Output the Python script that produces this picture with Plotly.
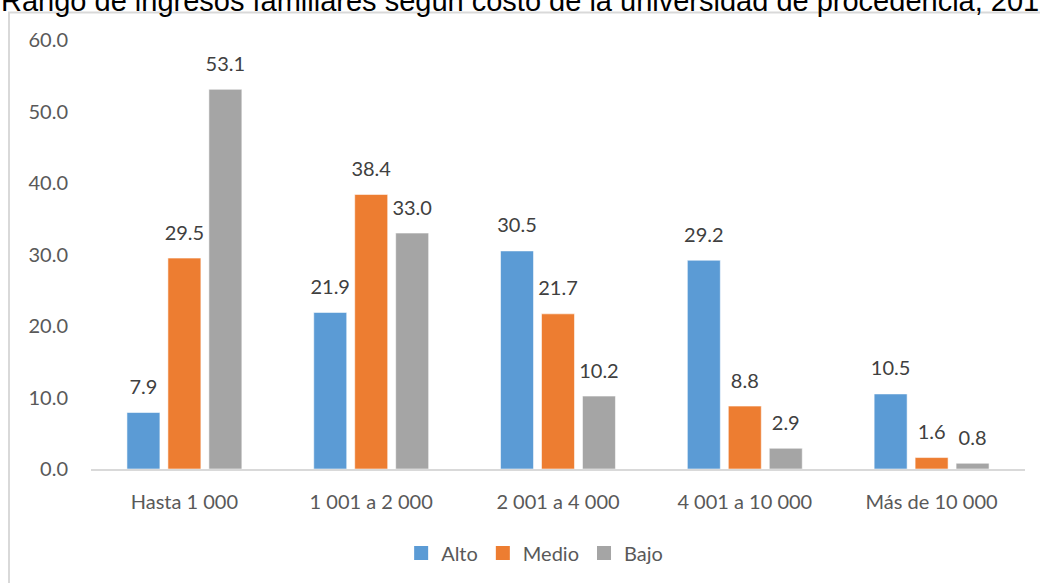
import plotly.graph_objects as go

categorias = ["Hasta 1 000", "1 001 a 2 000", "2 001 a 4 000", "4 001 a 10 000", "Más de 10 000"]
alto = [7.9, 21.9, 30.5, 29.2, 10.5]
medio = [29.5, 38.4, 21.7, 8.8, 1.6]
bajo = [53.1, 33.0, 10.2, 2.9, 0.8]
titulo = "Rango de ingresos familiares según costo de la universidad de procedencia, 2015"
ticks_y = [0, 10, 20, 30, 40, 50, 60]

series = [("Alto", alto, "#5B9BD5"), ("Medio", medio, "#ED7D31"), ("Bajo", bajo, "#A5A5A5")]

FONT = "Lato"
SIZE = 20
fig = go.Figure()

for nombre, valores, color in series:
    fig.add_trace(go.Bar(
        name=nombre, x=categorias, y=valores, offsetgroup=nombre,
        marker=dict(color=color, line=dict(color="rgba(255,255,255,0.55)", width=1)),
        showlegend=False, hoverinfo="skip",
    ))

# value labels, aligned with the grouped bars
for nombre, valores, color in series:
    fig.add_trace(go.Scatter(
        x=categorias, y=valores, offsetgroup=nombre, mode="markers+text",
        text=[f"{v:.1f}" for v in valores], textposition="top center",
        textfont=dict(family=FONT, size=SIZE, color="#404040"),
        marker=dict(size=20, opacity=0), showlegend=False, hoverinfo="skip",
    ))

# legend entries with square swatches
for nombre, valores, color in series:
    fig.add_trace(go.Scatter(
        x=[None], y=[None], name=nombre, mode="markers",
        marker=dict(symbol="square", size=14, color=color),
    ))

fig.update_layout(
    width=1040, height=583,
    margin=dict(l=91, r=15, t=40, b=113),
    paper_bgcolor="white", plot_bgcolor="white",
    barmode="group", bargap=0.342, bargroupgap=0.195,
    scattermode="group", scattergap=0.342,
    font=dict(family=FONT, size=SIZE, color="#595959"),
    xaxis=dict(showline=True, linecolor="#d9d9d9", linewidth=2, ticks="",
               showgrid=False, ticklabelstandoff=14,
               tickfont=dict(family=FONT, size=SIZE, color="#595959")),
    yaxis=dict(range=[0, 60], tickvals=ticks_y, ticktext=[f"{t:.1f}" for t in ticks_y],
               showgrid=False, zeroline=False, showline=False, ticks="",
               ticklabelstandoff=22,
               tickfont=dict(family=FONT, size=SIZE, color="#595959")),
    legend=dict(orientation="h", x=0.475, xanchor="center", y=-0.193, yanchor="middle",
                font=dict(family=FONT, size=SIZE, color="#595959"), itemwidth=30,
                traceorder="normal"),
    showlegend=True,
)

# chart frame
fig.add_shape(type="path", xref="paper", yref="paper",
              path="M -0.0878,-0.4 L -0.0878,1.064 L 1.1,1.064",
              line=dict(color="#d9d9d9", width=2))

fig.add_annotation(text=titulo, xref="paper", yref="paper", x=0, y=1,
                   xanchor="left", yanchor="bottom", xshift=-92, yshift=21,
                   showarrow=False, font=dict(family="Liberation Sans", size=29, color="black"))

fig.write_html("out.html")
